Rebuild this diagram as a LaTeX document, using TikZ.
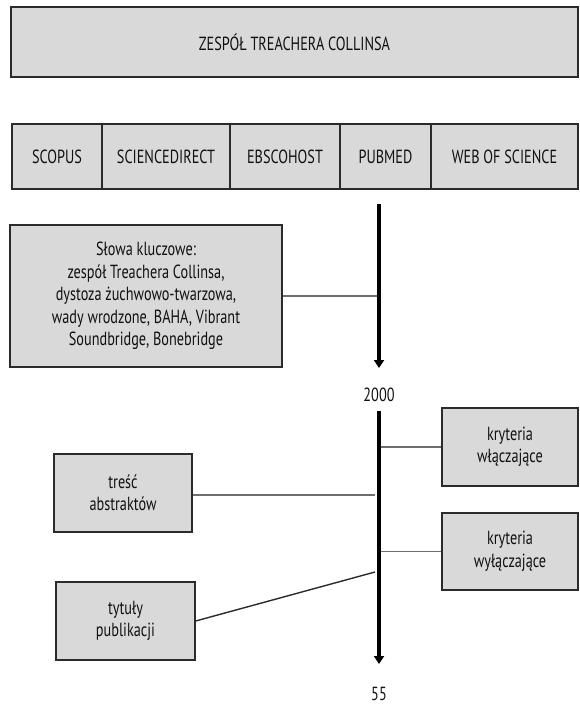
\documentclass[tikz,border=0pt]{standalone}
\usepackage{fontspec}
\setmainfont{PT Sans}[FakeStretch=0.75]
\usetikzlibrary{arrows.meta,positioning}
\definecolor{tcBox}{HTML}{D9D9D9}
\definecolor{tcEdge}{HTML}{2B2B2B}
\definecolor{tcLink}{HTML}{6E6E6E}
\definecolor{tcText}{HTML}{111111}
\tikzset{
  box/.style={draw=tcEdge, fill=tcBox, line width=1.3pt, align=center,
              inner sep=0pt, text=tcText, font=\fontsize{19}{22.5}\selectfont},
  dbcell/.style={box, minimum height=65pt},
  lbl/.style={text=tcText, inner sep=1pt, font=\fontsize{19}{22.5}\selectfont},
  timeline/.style={-{Triangle[length=8pt,width=10pt]}, line width=4.6pt, draw=black},
  link/.style={draw=tcLink, line width=1.4pt},
}

\begin{document}
\begin{tikzpicture}[x=1pt,y=-1pt]
  \useasboundingbox (0,0) rectangle (579,706);
  % title
  \node[box, minimum width=567pt, minimum height=70pt] (title) at (294.5,42) {ZESPÓŁ TREACHERA COLLINSA};
  % databases
  \node[dbcell, minimum width=90pt]  (scopus) at (57,156.5)  {SCOPUS};
  \node[dbcell, minimum width=128pt] (sd)     at (166,156.5) {SCIENCEDIRECT};
  \node[dbcell, minimum width=110pt] (ebsco)  at (285,156.5) {EBSCOHOST};
  \node[dbcell, minimum width=91pt]  (pubmed) at (385.5,156.5) {PUBMED};
  \node[dbcell, minimum width=147pt] (wos)    at (504.5,156.5) {WEB OF SCIENCE};
  % first period
  \coordinate (t1) at (379,204);
  \coordinate (t1end) at (379,368);
  \draw[timeline] (t1) -- (t1end);
  \node[box, minimum width=272pt, minimum height=142pt] (keys) at (146,296)
    {Słowa kluczowe:\\zespół Treachera Collinsa,\\dystoza żuchwowo-twarzowa,\\wady wrodzone, BAHA, Vibrant\\Soundbridge, Bonebridge};
  \coordinate (k1) at (377,296);
  \draw[link] (keys.east) -- (k1);
  \node[lbl] (y2000) at (379,395) {2000};
  % second period
  \coordinate (t2) at (379,411);
  \coordinate (t2end) at (379,664);
  \draw[timeline] (t2) -- (t2end);
  \node[box, minimum width=136pt, minimum height=78pt] (incl) at (510,447) {kryteria\\włączające};
  \node[box, minimum width=136pt, minimum height=77pt] (excl) at (510,551.5) {kryteria\\wyłączające};
  \node[box, minimum width=138pt, minimum height=78pt] (abstr) at (123,493) {treść\\abstraktów};
  \node[box, minimum width=139pt, minimum height=78pt] (titles) at (125.5,621) {tytuły\\publikacji};
  \coordinate (r1) at (381,447);
  \coordinate (r2) at (381,551.5);
  \coordinate (l1) at (375,495);
  \coordinate (l2) at (375,572);
  \draw[link] (r1) -- (incl.west);
  \draw[link] (r2) -- (excl.west);
  \draw[link] (abstr.east |- l1) -- (l1);
  \draw[link, draw=tcEdge] (titles.east) -- (l2);
  \node[lbl] (n55) at (379,694) {55};
\end{tikzpicture}
\end{document}
